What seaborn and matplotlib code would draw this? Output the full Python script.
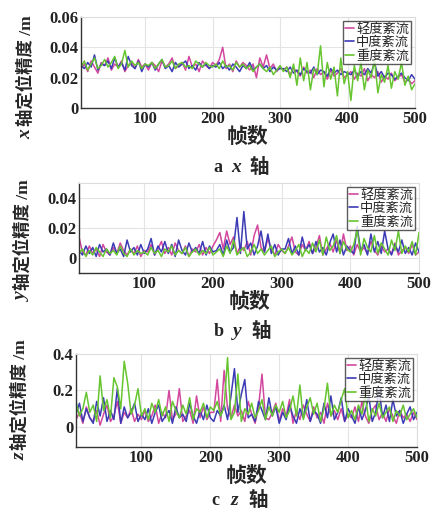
import numpy as np
import pandas as pd
import seaborn as sns
import matplotlib.pyplot as plt

# frame index (every 5th frame)
frames = list(range(5, 501, 5))
levels = ['轻度紊流', '中度紊流', '重度紊流']
colors = ['#d2489e', '#3b3bb5', '#66c530']

# x axis accuracy, mm
x_light = [26, 29, 24, 31, 27, 23, 30, 28, 33, 25, 29, 27, 31, 24, 28, 30, 26, 32, 27, 29,
           25, 30, 28, 24, 31, 27, 29, 33, 26, 28, 30, 25, 34, 27, 29, 24, 31, 28, 26, 30,
           28, 32, 40, 26, 29, 24, 31, 27, 30, 28, 25, 29, 20, 33, 27, 35, 26, 29, 24, 27,
           25, 27, 22, 26, 24, 21, 27, 23, 25, 20, 26, 22, 24, 19, 25, 21, 23, 26, 20, 22,
           24, 19, 23, 21, 26, 18, 22, 20, 24, 17, 21, 19, 23, 18, 20, 22, 17, 19, 16, 18]
x_medium = [28, 26, 30, 27, 35, 25, 29, 28, 31, 26, 33, 27, 30, 25, 34, 28, 26, 31, 24, 29,
            27, 30, 25, 29, 32, 26, 28, 24, 30, 27, 29, 31, 26, 28, 25, 30, 27, 29, 26, 28,
            27, 30, 26, 28, 25, 29, 27, 24, 28, 26, 30, 25, 27, 29, 26, 28, 24, 27, 25, 26,
            26, 24, 27, 23, 25, 22, 26, 24, 23, 27, 22, 25, 24, 21, 26, 23, 25, 22, 24, 23,
            22, 25, 21, 24, 22, 26, 23, 30, 21, 24, 20, 23, 22, 19, 21, 23, 20, 18, 22, 19]
x_heavy = [27, 31, 25, 29, 33, 26, 28, 32, 27, 30, 34, 26, 29, 38, 27, 31, 28, 30, 26, 29,
           28, 30, 26, 29, 32, 27, 28, 31, 26, 29, 30, 27, 28, 26, 31, 29, 27, 30, 28, 27,
           29, 26, 31, 27, 28, 25, 30, 27, 29, 26, 28, 24, 27, 29, 26, 24, 27, 22, 25, 28,
           24, 27, 20, 29, 15, 33, 18, 30, 12, 26, 22, 41, 14, 30, 19, 27, 8, 33, 16, 24,
           5, 28, 18, 30, 12, 25, 20, 32, 10, 22, 17, 28, 13, 24, 19, 30, 15, 21, 12, 16]

# y axis accuracy, mm
y_light = [14, 4, 2, 8, 3, 6, 1, 9, 4, 2, 7, 3, 10, 5, 2, 6, 3, 8, 1, 5,
           4, 9, 2, 6, 11, 3, 7, 2, 10, 5, 3, 8, 1, 6, 4, 9, 2, 7, 3, 8,
           12, 17, 6, 18, 9, 14, 3, 8, 5, 11, 2, 15, 22, 7, 4, 13, 6, 2, 9, 5,
           3, 8, 14, 4, 2, 9, 5, 11, 3, 7, 15, 2, 6, 10, 4, 12, 3, 16, 5, 8,
           2, 9, 4, 7, 3, 11, 5, 2, 8, 4, 6, 3, 10, 2, 5, 7, 3, 9, 2, 4]
y_medium = [5, 2, 8, 3, 7, 1, 9, 4, 6, 2, 10, 3, 6, 1, 12, 4, 7, 2, 9, 3,
            6, 13, 2, 8, 4, 11, 3, 9, 1, 12, 5, 2, 10, 4, 7, 3, 11, 2, 8, 4,
            5, 9, 2, 12, 4, 7, 27, 3, 31, 6, 10, 2, 8, 18, 4, 16, 3, 9, 2, 6,
            6, 13, 3, 8, 2, 14, 5, 9, 3, 11, 4, 7, 2, 10, 16, 4, 12, 2, 8, 5,
            3, 21, 5, 9, 2, 16, 4, 11, 3, 18, 6, 2, 9, 4, 12, 3, 7, 2, 10, 4]
y_heavy = [3, 6, 1, 5, 2, 7, 4, 1, 6, 3, 5, 2, 8, 3, 1, 6, 2, 5, 3, 4,
           2, 7, 3, 5, 1, 6, 4, 8, 2, 5, 3, 7, 1, 4, 6, 2, 5, 3, 7, 2,
           4, 6, 1, 8, 3, 12, 2, 5, 7, 1, 4, 9, 3, 6, 2, 5, 8, 1, 4, 6,
           3, 7, 2, 5, 9, 1, 6, 3, 10, 4, 12, 2, 14, 5, 8, 15, 3, 11, 6, 4,
           9, 19, 2, 13, 7, 4, 15, 3, 10, 6, 2, 12, 5, 18, 3, 8, 4, 11, 2, 17]

# z axis accuracy, cm
z_light = [4, 8, 2, 11, 5, 3, 9, 1, 7, 12, 3, 6, 14, 2, 8, 5, 10, 3, 7, 4,
           9, 3, 6, 12, 2, 8, 5, 20, 4, 7, 21, 3, 6, 9, 2, 17, 5, 11, 4, 8,
           8, 26, 3, 31, 10, 5, 12, 6, 9, 3, 14, 7, 2, 11, 29, 5, 4, 8, 13, 3,
           10, 6, 15, 2, 9, 4, 12, 7, 3, 11, 5, 8, 2, 13, 6, 9, 4, 10, 3, 7,
           5, 11, 3, 14, 6, 2, 9, 12, 4, 8, 3, 10, 6, 2, 9, 5, 7, 3, 8, 4]
z_medium = [7, 13, 3, 10, 5, 2, 14, 6, 16, 3, 9, 4, 21, 2, 11, 5, 8, 13, 3, 7,
            4, 10, 2, 8, 12, 3, 6, 9, 2, 11, 5, 7, 3, 13, 6, 2, 9, 4, 12, 5,
            3, 9, 6, 12, 4, 17, 32, 8, 18, 26, 5, 7, 3, 14, 9, 4, 16, 6, 11, 2,
            8, 4, 12, 6, 2, 10, 5, 15, 3, 9, 7, 2, 13, 5, 17, 4, 8, 16, 3, 10,
            6, 2, 11, 4, 9, 17, 3, 8, 21, 5, 12, 3, 15, 6, 9, 2, 7, 11, 4, 8]
z_heavy = [14, 6, 10, 19, 8, 12, 3, 28, 9, 15, 5, 27, 22, 10, 36, 24, 7, 12, 21, 6,
           10, 4, 13, 8, 15, 6, 11, 3, 14, 9, 5, 12, 7, 16, 4, 10, 8, 13, 5, 11,
           9, 14, 6, 11, 38, 4, 8, 29, 3, 10, 7, 13, 5, 9, 15, 4, 11, 6, 12, 8,
           14, 5, 9, 17, 6, 23, 4, 11, 16, 7, 13, 3, 10, 24, 6, 12, 8, 15, 21, 5,
           9, 4, 12, 7, 18, 3, 10, 6, 13, 5, 8, 11, 3, 9, 6, 12, 4, 7, 10, 5]

panels = [
    ('x', [x_light, x_medium, x_heavy], 1000, (0, 0.06), [0, 0.02, 0.04, 0.06], ['0', '0.02', '0.04', '0.06'], 'a'),
    ('y', [y_light, y_medium, y_heavy], 1000, (-0.01, 0.05), [0, 0.02, 0.04], ['0', '0.02', '0.04'], 'b'),
    ('z', [z_light, z_medium, z_heavy], 100, (-0.11, 0.4), [0, 0.2, 0.4], ['0', '0.2', '0.4'], 'c'),
]

sns.set_style('white')
fam = ['Liberation Serif', 'Noto Sans CJK SC']
plt.rcParams['font.family'] = fam

fig = plt.figure(figsize=(4.32, 5.15), dpi=100)
rects = [(81, 17, 415, 108), (79, 183, 419, 273), (76, 354, 417, 447)]
label_start = [-0.23, -0.22, -0.06]
caption_y = [-0.65, -0.65, -0.58]
W, H = 432, 515

for (axis, series, scale, ylim, yticks, ylabels, tag), (l, t, r, b), ls, cy in zip(panels, rects, label_start, caption_y):
    ax = fig.add_axes([l / W, 1 - b / H, (r - l) / W, (b - t) / H])
    df = pd.DataFrame({
        'frame': frames * 3,
        'value': np.concatenate([np.array(s) / scale for s in series]),
        'level': np.repeat(levels, len(frames)),
    })
    sns.lineplot(data=df, x='frame', y='value', hue='level', palette=dict(zip(levels, colors)),
                 linewidth=1.1, ax=ax)
    ax.set_xlim(5, 500)
    ax.set_ylim(*ylim)
    ax.set_xticks([100, 200, 300, 400, 500])
    ax.set_yticks(yticks)
    ax.set_yticklabels(ylabels)
    ax.grid(True, color='#e4e4e4', linewidth=0.8)
    ax.set_axisbelow(True)
    for s in ['top', 'right']:
        ax.spines[s].set_color('#dddddd')
    for s in ['left', 'bottom']:
        ax.spines[s].set_color('#333333')
        ax.spines[s].set_linewidth(1.0)
    ax.tick_params(direction='in', length=3, pad=2, labelsize=12, colors='#222222')
    for lab in ax.get_xticklabels() + ax.get_yticklabels():
        lab.set_fontweight('bold')
    ax.set_xlabel('帧数', fontsize=15, fontweight='bold', labelpad=1)
    ax.set_ylabel('')

    # y label: italic axis letter + Chinese text, rotated
    ax.text(-0.165, ls, axis, transform=ax.transAxes, rotation=90, rotation_mode='anchor',
            ha='right', va='center', fontsize=14, fontstyle='italic', fontweight='bold')
    ax.text(-0.165, ls + 0.03, '轴定位精度 /m', transform=ax.transAxes, rotation=90,
            rotation_mode='anchor', ha='left', va='center', fontsize=12.5, fontweight='bold')

    # caption below the panel
    ax.text(0.41, cy, tag, transform=ax.transAxes, ha='center', va='center',
            fontsize=13, fontweight='bold')
    ax.text(0.465, cy, axis, transform=ax.transAxes, ha='center', va='center',
            fontsize=14, fontweight='bold', fontstyle='italic')
    ax.text(0.535, cy, '轴', transform=ax.transAxes, ha='center', va='center',
            fontsize=14, fontweight='bold')

    leg = ax.legend(loc='upper right', fontsize=9.5, frameon=True, fancybox=False,
                    edgecolor='#333333', handlelength=0.7, handletextpad=0.15,
                    borderpad=0.15, labelspacing=0.05, borderaxespad=0.3, title=None)
    leg.get_frame().set_linewidth(1.0)
    for line in leg.get_lines():
        line.set_linewidth(1.2)

fig.savefig('out.png', dpi=100)
